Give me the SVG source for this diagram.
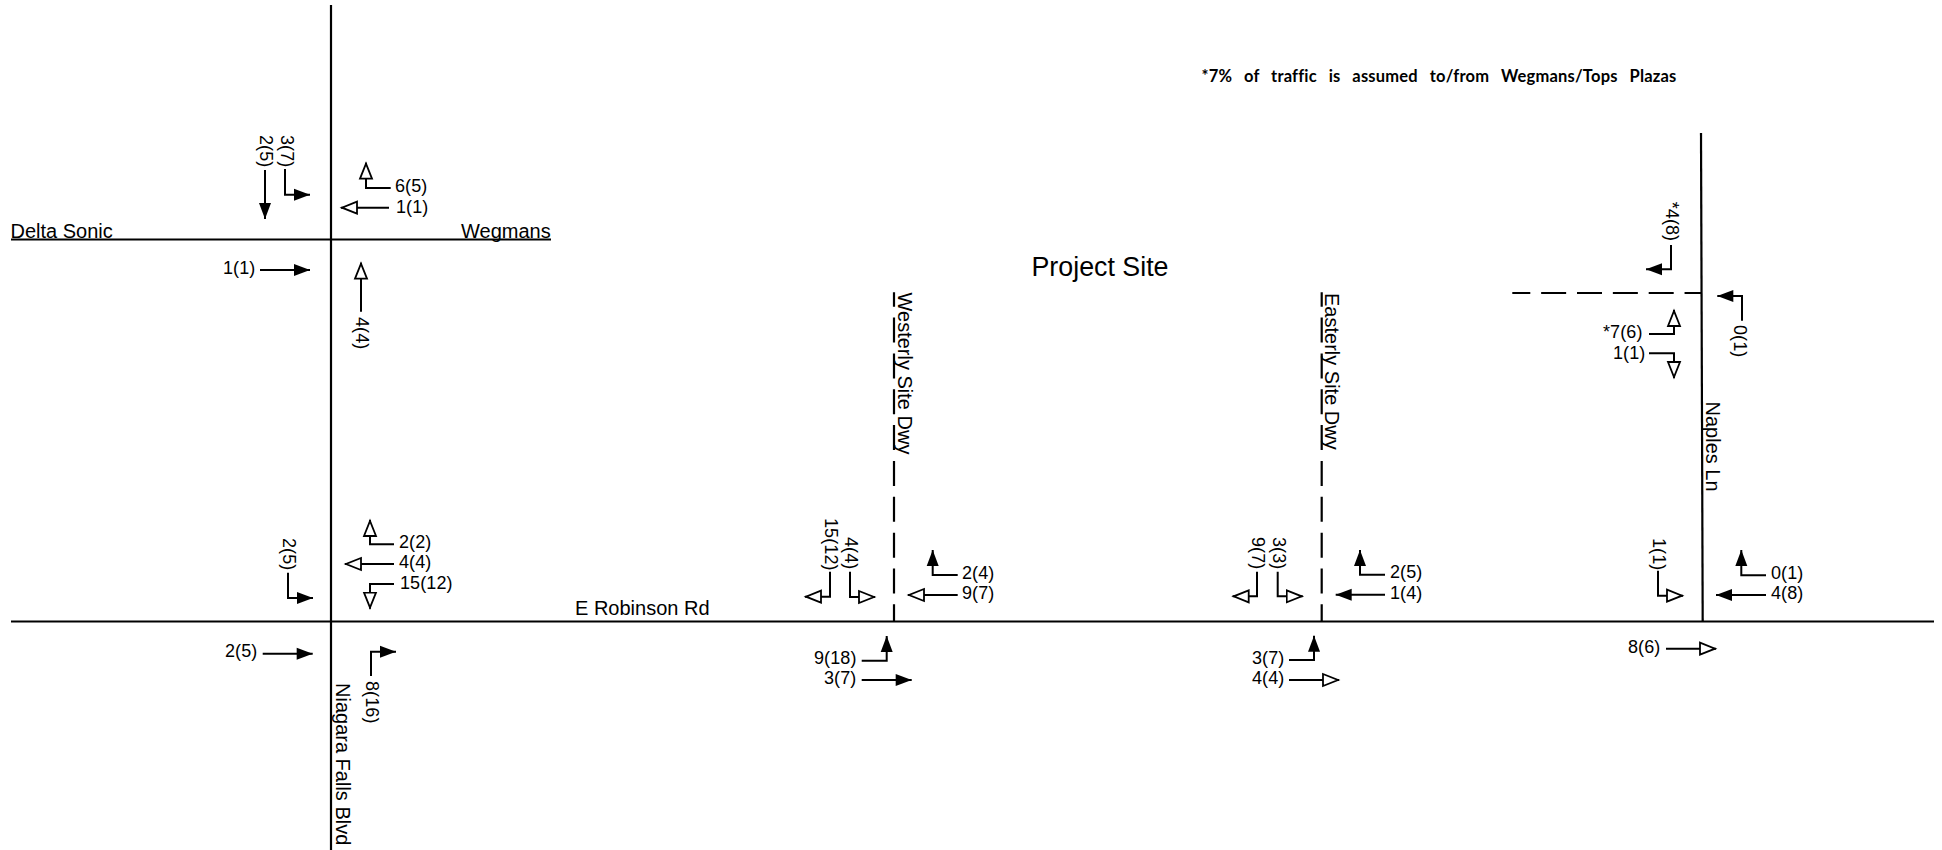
<svg xmlns="http://www.w3.org/2000/svg" width="1942" height="850" viewBox="0 0 1942 850">
<style>
.road{fill:none;stroke:#000;stroke-width:2.2}
.dash{stroke-dasharray:25 10.85}
.a{fill:none;stroke:#000;stroke-width:2}
.o{marker-end:url(#open)}
.f{marker-end:url(#filled)}
text{font-family:"Liberation Sans",Arial,sans-serif;fill:#000}
.n{font-size:20px}
.v{font-size:18px;letter-spacing:.1px}
.note{font-family:Lato,"Liberation Sans",sans-serif;font-size:16.5px;font-weight:700;letter-spacing:.2px;word-spacing:7.6px}
</style>
<defs>
<marker id="open" markerUnits="userSpaceOnUse" markerWidth="20" markerHeight="16" viewBox="-1 -8 20 16" refX="16" refY="0" orient="auto"><path d="M0-6L15 0L0 6Z" fill="#fff" stroke="#000" stroke-width="1.8"/></marker>
<marker id="filled" markerUnits="userSpaceOnUse" markerWidth="20" markerHeight="16" viewBox="-1 -8 20 16" refX="16" refY="0" orient="auto"><path d="M0-6L16 0L0 6Z" fill="#000"/></marker>
</defs>
<rect width="1942" height="850" fill="#fff"/>
<g id="roads">
<path class="road" d="M331 5V850"/>
<path class="road" d="M11 239.5H551"/>
<path class="road" d="M11 621.5H1934"/>
<path class="road" d="M1701 133L1702.7 621.5"/>
<path class="road dash" style="stroke-dashoffset:10.6" d="M894 292.3V621.5"/>
<path class="road dash" style="stroke-dashoffset:10.6" d="M1321.7 292.3V621.5"/>
<path class="road dash" style="stroke-dashoffset:7" d="M1512.3 293H1701"/>
</g>
<g id="road-labels">
<text class="n" x="10.5" y="238">Delta Sonic</text>
<text class="n" x="461" y="238">Wegmans</text>
<text class="n" x="575" y="615">E Robinson Rd</text>
<text x="1031.5" y="276" font-size="26.8">Project Site</text>
<text class="n" transform="translate(336 683) rotate(90)">Niagara Falls Blvd</text>
<text class="n" transform="translate(897.7 292.5) rotate(90)">Westerly Site Dwy</text>
<text class="n" transform="translate(1325 293) rotate(90)">Easterly Site Dwy</text>
<text class="n" transform="translate(1706 401.5) rotate(90)">Naples Ln</text>
<text class="note" x="1201.5" y="81.5">*7% of traffic is assumed to/from Wegmans/Tops Plazas</text>
</g>
<g id="connectors">
<path class="a f" d="M265 170V219"/>
<path class="a f" d="M285 169V194.7H310"/>
<path class="a o" d="M390.7 188H366V162.7"/>
<path class="a o" d="M389 207.7H341"/>
<path class="a f" d="M260 270H310"/>
<path class="a o" d="M361 311.7V262.7"/>
<path class="a f" d="M288 572.7V598H313"/>
<path class="a o" d="M394 544.3H370V520"/>
<path class="a o" d="M394 564H345"/>
<path class="a o" d="M394 584H370V608.7"/>
<path class="a f" d="M262.7 653.7H312.7"/>
<path class="a f" d="M371 676V651.7H396"/>
<path class="a o" d="M830 571.7V596.7H805"/>
<path class="a o" d="M850 571.7V597H875"/>
<path class="a f" d="M957.7 575H932.7V550"/>
<path class="a o" d="M957.7 595H908"/>
<path class="a f" d="M861.7 660.7H886.7V636"/>
<path class="a f" d="M861.7 680H911.7"/>
<path class="a o" d="M1257 571.7V596.3H1232.7"/>
<path class="a o" d="M1277.7 571.7V596.3H1302.7"/>
<path class="a f" d="M1385 574.7H1360V550"/>
<path class="a f" d="M1385 594.7H1335.7"/>
<path class="a f" d="M1289 660H1314V635.7"/>
<path class="a o" d="M1289 680H1339"/>
<path class="a f" d="M1671 245V269.3H1646"/>
<path class="a f" d="M1742 320.7V296H1717.3"/>
<path class="a o" d="M1649 334H1674V310"/>
<path class="a o" d="M1649 353.3H1674V378"/>
<path class="a o" d="M1658 570.7V595.7H1683"/>
<path class="a f" d="M1766 575.3H1741.3V550"/>
<path class="a f" d="M1766 595H1716"/>
<path class="a o" d="M1666 648.7H1716"/>
</g>
<g id="niagara-delta-volumes">
<text class="v" transform="translate(260 135) rotate(90)">2(5)</text>
<text class="v" transform="translate(280.5 135) rotate(90)">3(7)</text>
<text class="v" x="395" y="191.7">6(5)</text>
<text class="v" x="396" y="213">1(1)</text>
<text class="v" x="223" y="274">1(1)</text>
<text class="v" transform="translate(356 317) rotate(90)">4(4)</text>
</g>
<g id="niagara-robinson-volumes">
<text class="v" transform="translate(283 538) rotate(90)">2(5)</text>
<text class="v" x="399" y="548">2(2)</text>
<text class="v" x="399" y="568">4(4)</text>
<text class="v" x="400" y="589">15(12)</text>
<text class="v" x="225" y="657">2(5)</text>
<text class="v" transform="translate(366 681) rotate(90)">8(16)</text>
</g>
<g id="westerly-volumes">
<text class="v" transform="translate(825 518) rotate(90)">15(12)</text>
<text class="v" transform="translate(845 537) rotate(90)">4(4)</text>
<text class="v" x="962" y="579">2(4)</text>
<text class="v" x="962" y="599">9(7)</text>
<text class="v" x="814" y="664">9(18)</text>
<text class="v" x="824" y="684">3(7)</text>
</g>
<g id="easterly-volumes">
<text class="v" transform="translate(1252 537) rotate(90)">9(7)</text>
<text class="v" transform="translate(1272.7 537) rotate(90)">3(3)</text>
<text class="v" x="1390" y="578">2(5)</text>
<text class="v" x="1390" y="598.7">1(4)</text>
<text class="v" x="1252" y="664">3(7)</text>
<text class="v" x="1252" y="684">4(4)</text>
</g>
<g id="naples-north-volumes">
<text class="v" transform="translate(1665.7 201.7) rotate(90)">*4(8)</text>
<text class="v" transform="translate(1734 325) rotate(90)">0(1)</text>
<text class="v" x="1603" y="338">*7(6)</text>
<text class="v" x="1613" y="359">1(1)</text>
</g>
<g id="naples-robinson-volumes">
<text class="v" transform="translate(1653 538) rotate(90)">1(1)</text>
<text class="v" x="1771" y="579">0(1)</text>
<text class="v" x="1771" y="598.7">4(8)</text>
<text class="v" x="1628" y="653">8(6)</text>
</g>
</svg>
